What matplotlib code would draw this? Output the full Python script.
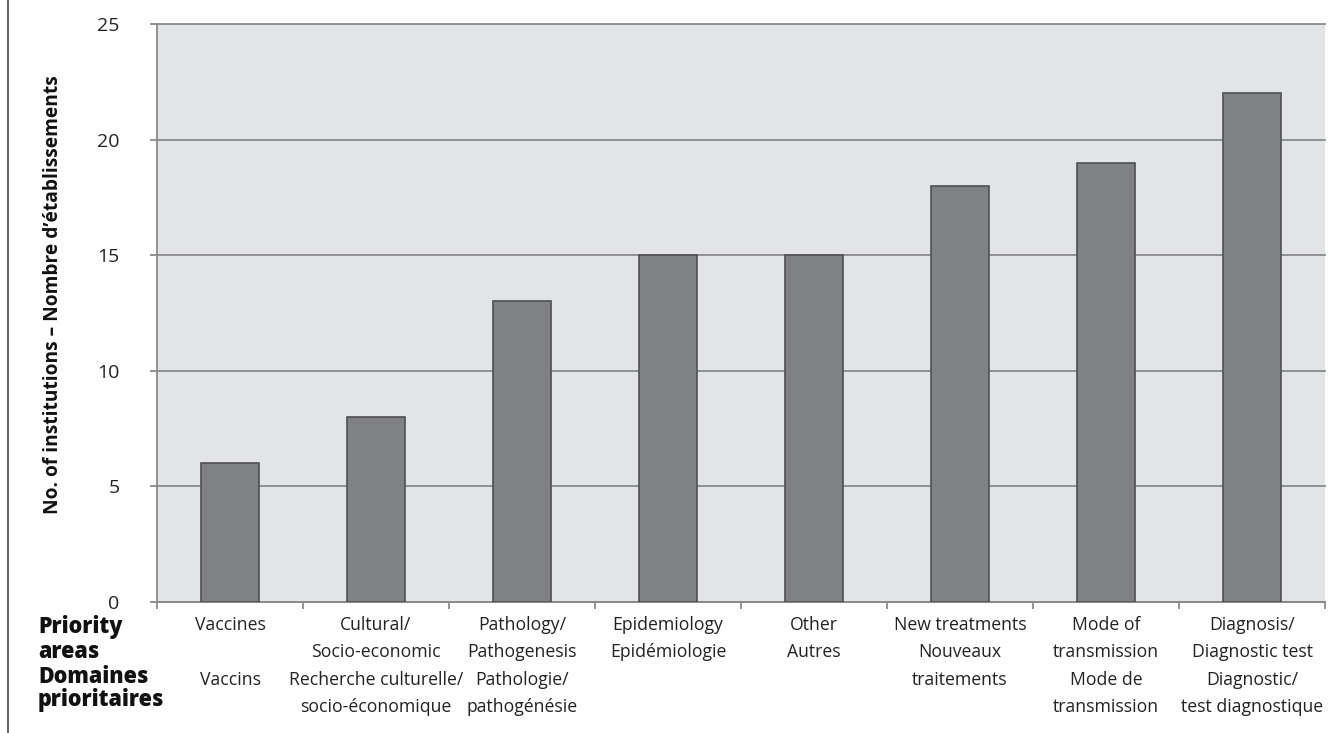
import matplotlib
matplotlib.use("Agg")
import matplotlib.pyplot as plt
from matplotlib.transforms import blended_transform_factory
from matplotlib.lines import Line2D

# Priority research areas and number of institutions working on each
areas_en = [
    ["Vaccines", ""],
    ["Cultural/", "Socio-economic"],
    ["Pathology/", "Pathogenesis"],
    ["Epidemiology"],
    ["Other"],
    ["New treatments"],
    ["Mode of", "transmission"],
    ["Diagnosis/", "Diagnostic test"],
]
areas_fr = [
    ["Vaccins"],
    ["Recherche culturelle/", "socio-économique"],
    ["Pathologie/", "pathogénésie"],
    ["Epidémiologie"],
    ["Autres"],
    ["Nouveaux", "traitements"],
    ["Mode de", "transmission"],
    ["Diagnostic/", "test diagnostique"],
]
institutions = [6, 8, 13, 15, 15, 18, 19, 22]
y_ticks = [0, 5, 10, 15, 20, 25]

W, H = 1341, 733
fig = plt.figure(figsize=(W / 100, H / 100), dpi=100)
ax = fig.add_axes([157 / W, 1 - 602 / H, (1325 - 157) / W, (602 - 24) / H])

sans = ["Open Sans", "DejaVu Sans"]

ax.set_facecolor("#e3e4e6")
x = list(range(len(institutions)))
ax.bar(x, institutions, width=0.4, color="#808184", edgecolor="#505052",
       linewidth=1.2, zorder=3)

ax.set_xlim(-0.5, len(institutions) - 0.5)
ax.set_ylim(0, 25)
ax.set_yticks(y_ticks)
ax.set_yticklabels([str(v) for v in y_ticks], fontsize=14, family=sans,
                   color="#222222")
ax.yaxis.grid(True, color="#8a8a8c", linewidth=1.3, zorder=1)
ax.set_axisbelow(True)
for gl in ax.get_ygridlines():
    gl.set_clip_on(False)

ax.set_xticks([i - 0.5 for i in range(len(institutions) + 1)])
ax.set_xticklabels([])
ax.tick_params(axis="x", direction="out", length=5, width=1.3, color="#8a8a8c")
ax.tick_params(axis="y", direction="out", length=5, width=1.3, color="#8a8a8c",
               pad=22)

for side in ("top", "right"):
    ax.spines[side].set_visible(False)
for side in ("left", "bottom"):
    ax.spines[side].set_color("#8a8a8c")
    ax.spines[side].set_linewidth(1.3)

# Two-language category labels under each bar, one line per row slot
tr = blended_transform_factory(ax.transData, fig.transFigure)
row0, pitch = 625, 27.3
for i, (en, fr) in enumerate(zip(areas_en, areas_fr)):
    for k, line in enumerate(en + fr):
        if line:
            ax.text(i, 1 - (row0 + k * pitch) / H, line, transform=tr,
                    ha="center", va="center", fontsize=12.7, family=sans,
                    color="#222222")

# Row header for the category labels
for line, ypx in zip(["Priority", "areas", "Domaines", "prioritaires"],
                     [627, 652, 677, 700]):
    fig.text(38 / W, 1 - ypx / H, line, ha="left", va="center", fontsize=15.5,
             family=sans, fontweight=800, color="#111111")

# Vertical axis title
fig.text(53 / W, 1 - 295 / H,
         "No. of institutions – Nombre d’établissements",
         rotation=90, ha="center", va="center", fontsize=13.8,
         family=sans, fontweight="bold", color="#111111")

# Rule along the left edge of the figure
fig.add_artist(Line2D([8 / W, 8 / W], [0, 1], transform=fig.transFigure,
                      color="#666666", linewidth=1.5))

fig.savefig("out.png", dpi=100, facecolor="white")
